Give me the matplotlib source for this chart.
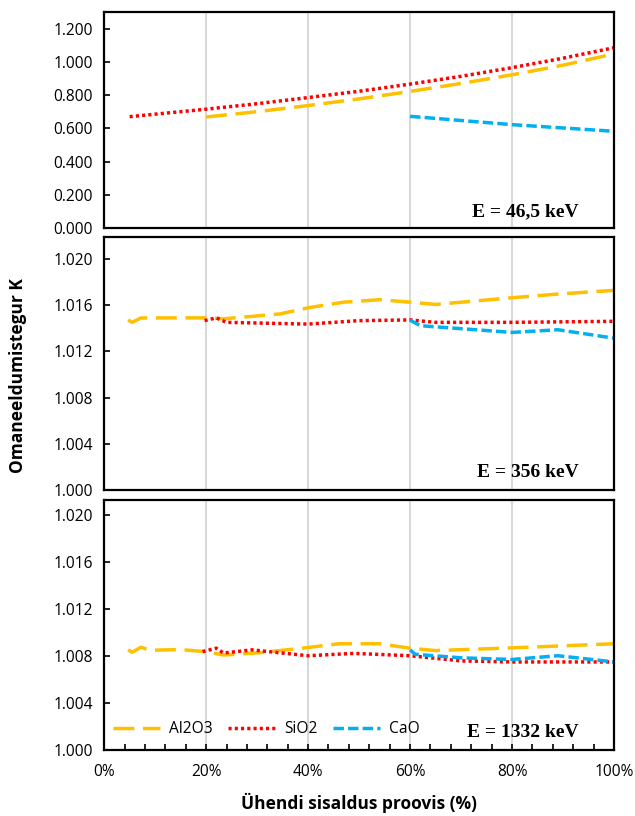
import numpy as np
import matplotlib.pyplot as plt
from matplotlib.ticker import MultipleLocator, FuncFormatter

# E = 46,5 keV
x_al_1 = [20, 30, 40, 50, 60, 70, 80, 90, 100]
y_al_1 = [0.668, 0.700, 0.737, 0.777, 0.822, 0.870, 0.922, 0.980, 1.048]
x_si_1 = [5, 10, 20, 30, 40, 50, 60, 70, 80, 90, 100]
y_si_1 = [0.670, 0.685, 0.715, 0.748, 0.785, 0.823, 0.866, 0.913, 0.965, 1.022, 1.085]
x_ca_1 = [60, 80, 100]
y_ca_1 = [0.672, 0.622, 0.582]

# E = 356 keV
x_al_2 = [4.7, 5.5, 7.2, 20, 23.5, 34.5, 40, 47, 54, 60, 65, 80, 89, 100]
y_al_2 = [1.01472, 1.01451, 1.01489, 1.0149, 1.01482, 1.01524, 1.01577, 1.01626, 1.01647,
          1.01626, 1.01606, 1.01664, 1.01696, 1.01728]
x_si_2 = [19.7, 22, 24, 40, 50, 60, 65, 80, 100]
y_si_2 = [1.01466, 1.0149, 1.01451, 1.01436, 1.01466, 1.01472, 1.01451, 1.01451, 1.0146]
x_ca_2 = [60, 62, 80, 89, 100]
y_ca_2 = [1.0147, 1.01422, 1.01364, 1.01387, 1.01314]

# E = 1332 keV
x_al_3 = [4.7, 5.5, 7.2, 9, 15, 20, 23.4, 30.6, 40, 46, 54, 60, 65, 80, 100]
y_al_3 = [1.00853, 1.00832, 1.00876, 1.0085, 1.00855, 1.00838, 1.00809, 1.00829, 1.00873,
          1.00905, 1.00905, 1.00867, 1.00847, 1.0087, 1.00905]
x_si_3 = [19.3, 22, 23.4, 29, 40, 49, 60, 70, 80, 100]
y_si_3 = [1.00838, 1.00867, 1.00826, 1.00853, 1.00803, 1.00823, 1.00803, 1.00759, 1.0075, 1.0075]
x_ca_3 = [60, 61, 70, 80, 89, 100]
y_ca_3 = [1.00853, 1.00815, 1.00785, 1.00771, 1.00803, 1.0075]

labels = ["Al2O3", "SiO2", "CaO"]
energies = ["E = 46,5 keV", "E = 356 keV", "E = 1332 keV"]

c_al = "#FFC000"
c_si = "#FF0000"
c_ca = "#00B0F0"

plt.rcParams['font.family'] = ['Open Sans', 'DejaVu Sans']

fig = plt.figure(figsize=(6.35, 8.16), dpi=100)
rects = [
    [0.164, 0.7206, 0.803, 0.2647],
    [0.164, 0.3995, 0.803, 0.3101],
    [0.164, 0.0809, 0.803, 0.3064],
]
panels = [
    (x_al_1, y_al_1, x_si_1, y_si_1, x_ca_1, y_ca_1),
    (x_al_2, y_al_2, x_si_2, y_si_2, x_ca_2, y_ca_2),
    (x_al_3, y_al_3, x_si_3, y_si_3, x_ca_3, y_ca_3),
]
ylims = [(0, 1.30), (1.000, 1.0219), (1.000, 1.0213)]
ysteps = [0.2, 0.004, 0.004]

for i, (rect, data) in enumerate(zip(rects, panels)):
    ax = fig.add_axes(rect)
    xa, ya, xs, ys, xc, yc = data
    for g in [20, 40, 60, 80]:
        ax.axvline(g, color="#D9D9D9", lw=1.5, zorder=0)
    ax.plot(xa, ya, color=c_al, lw=2.5, dashes=(6, 2.5), label=labels[0])
    ax.plot(xs, ys, color=c_si, lw=2.5, dashes=(0.9, 0.9), label=labels[1])
    ax.plot(xc, yc, color=c_ca, lw=2.5, dashes=(3, 1.2), label=labels[2])
    ax.set_xlim(0, 100)
    ax.set_ylim(*ylims[i])
    ax.yaxis.set_major_locator(MultipleLocator(ysteps[i]))
    ax.yaxis.set_major_formatter(FuncFormatter(lambda v, p: f"{v:.3f}"))
    ax.tick_params(axis='y', direction='in', length=4, width=1.2, labelsize=11.2, pad=8)
    for s in ax.spines.values():
        s.set_linewidth(1.6)
    ax.text(0.93, 0.035, energies[i], transform=ax.transAxes, ha='right', va='bottom',
            fontsize=14, fontweight='bold', family='Liberation Serif')
    if i < 2:
        ax.set_xticks([])
    else:
        ax.xaxis.set_major_locator(MultipleLocator(20))
        ax.xaxis.set_minor_locator(MultipleLocator(4))
        ax.xaxis.set_major_formatter(FuncFormatter(lambda v, p: f"{v:.0f}%"))
        ax.tick_params(axis='x', which='both', direction='in', length=4, width=1.2,
                       labelsize=11.2, pad=10)
        ax.set_xlabel("Ühendi sisaldus proovis (%)", fontsize=12.5, fontweight='bold', labelpad=9)
        ax.legend(loc='lower left', bbox_to_anchor=(-0.01, -0.005), ncol=3, frameon=False,
                  fontsize=11.2, handlelength=3.0, handletextpad=0.6, columnspacing=1.0)

fig.text(0.028, 0.54, "Omaneeldumistegur K", rotation=90, ha='center', va='center',
         fontsize=12.5, fontweight='bold')

fig.savefig("out.png", dpi=100)
